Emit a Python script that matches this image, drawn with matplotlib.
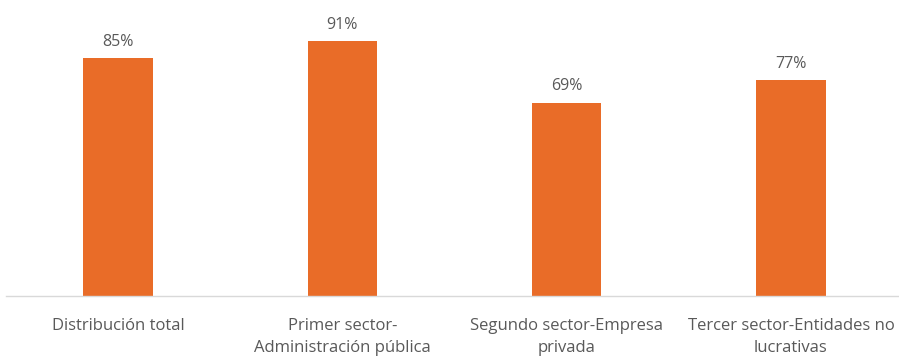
import matplotlib.pyplot as plt

categorias = [
    "Distribución total",
    "Primer sector-\nAdministración pública",
    "Segundo sector-Empresa\nprivada",
    "Tercer sector-Entidades no\nlucrativas",
]
porcentajes = [85, 91, 69, 77]

plt.rcParams['font.family'] = ['Open Sans', 'DejaVu Sans']

fig = plt.figure(figsize=(8.99, 3.59), dpi=100)
ax = fig.add_axes([6 / 899, 63 / 359, 897 / 899, 280 / 359])

x = range(len(categorias))
barras = ax.bar(x, porcentajes, width=0.31, color="#E96C28")

for b, v in zip(barras, porcentajes):
    ax.text(b.get_x() + b.get_width() / 2, v + 3, f"{v}%",
            ha="center", va="bottom", fontsize=11.5, color="#595959")

ax.set_xlim(-0.5, 3.5)
ax.set_ylim(0, 100)
ax.set_yticks([])
ax.set_xticks(list(x))
ax.set_xticklabels(categorias, fontsize=12, color="#595959", linespacing=1.5)
ax.tick_params(axis="x", length=0, pad=16)

for lado in ["top", "right", "left"]:
    ax.spines[lado].set_visible(False)
ax.spines["bottom"].set_color("#D9D9D9")
ax.spines["bottom"].set_linewidth(1)

fig.savefig("out.png", dpi=100)
